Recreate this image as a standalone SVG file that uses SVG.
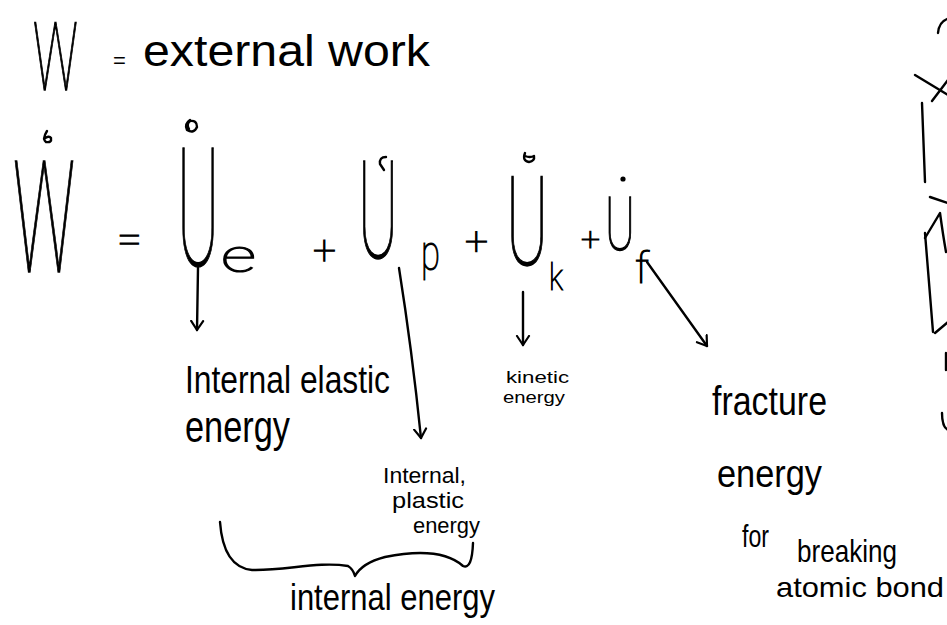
<svg xmlns="http://www.w3.org/2000/svg" width="947" height="625" viewBox="0 0 947 625">
<style>
text{font-family:"Liberation Sans",Arial,sans-serif;fill:#000}
.g{font-family:Roboto,"Liberation Sans",sans-serif;font-weight:100;stroke:#000;stroke-width:1.1;vector-effect:non-scaling-stroke}
.s{fill:none;stroke:#000;stroke-width:2.4;stroke-linecap:round;stroke-linejoin:round}
.c{fill:none;stroke:#000;stroke-width:2.4;stroke-linecap:round;marker-end:url(#ah)}
</style>
<defs>
<marker id="ah" viewBox="-10 -8 12 16" refX="0" refY="0" markerWidth="12" markerHeight="16" markerUnits="userSpaceOnUse" orient="auto">
<path d="M-9,-6 L0,0 L-9,6" fill="none" stroke="#000" stroke-width="2.2" stroke-linecap="round" stroke-linejoin="round"/>
</marker>
</defs>
<rect width="947" height="625" fill="#fff"/>

<g id="definition">
<text class="g" transform="translate(33,90) scale(0.54,1)" font-size="94" textLength="83" lengthAdjust="spacingAndGlyphs" vector-effect="non-scaling-stroke">W</text>
<text x="113" y="68" font-size="22">=</text>
<text x="143" y="66" font-size="44" textLength="287" lengthAdjust="spacingAndGlyphs">external work</text>
</g>

<g id="equation">
<g id="W-dot">
<text class="g" transform="translate(13,272) scale(0.46,1)" font-size="155" textLength="135" lengthAdjust="spacingAndGlyphs" vector-effect="non-scaling-stroke">W</text>
<path class="s" d="M47,131 Q42,139 46,142 Q52,143 51,138 Q49,135 44,139"/>
</g>
<text class="g" x="117" y="253" font-size="40" textLength="25" lengthAdjust="spacingAndGlyphs">=</text>
<g id="Ue">
<text class="g" transform="translate(177,265) scale(0.39,1)" font-size="166" textLength="108" lengthAdjust="spacingAndGlyphs" vector-effect="non-scaling-stroke">U</text>
<path class="s" d="M190,120 Q184,124 187,130 Q194,134 197,127 Q197,120 190,121 Q186,124 189,129"/>
<text class="g" x="221" y="272" font-size="46" textLength="35" lengthAdjust="spacingAndGlyphs">e</text>
</g>
<text class="g" x="313" y="264" font-size="40" textLength="23" lengthAdjust="spacingAndGlyphs">+</text>
<g id="Up">
<text class="g" transform="translate(358,258) scale(0.45,1)" font-size="136" textLength="89" lengthAdjust="spacingAndGlyphs" vector-effect="non-scaling-stroke">U</text>
<path class="s" d="M386,157 Q379,157 380,164 L384,170"/>
<text class="g" x="421" y="270" font-size="50" textLength="19" lengthAdjust="spacingAndGlyphs">p</text>
</g>
<text class="g" x="465" y="254" font-size="38" textLength="23" lengthAdjust="spacingAndGlyphs">+</text>
<g id="Uk">
<text class="g" transform="translate(506,265) scale(0.52,1)" font-size="125" textLength="81" lengthAdjust="spacingAndGlyphs" vector-effect="non-scaling-stroke">U</text>
<path class="s" d="M525,153 Q522,161 529,162 Q535,161 534,156 Q530,158 525,156"/>
<text class="g" x="549" y="290" font-size="36" textLength="14" lengthAdjust="spacingAndGlyphs">k</text>
</g>
<text class="g" x="581" y="250" font-size="32" textLength="19" lengthAdjust="spacingAndGlyphs">+</text>
<g id="Uf">
<text class="g" transform="translate(605,250) scale(0.62,1)" font-size="74" textLength="48" lengthAdjust="spacingAndGlyphs" vector-effect="non-scaling-stroke">U</text>
<circle cx="623" cy="179" r="2.6" fill="#000"/>
<text class="g" x="635" y="283" font-size="42" textLength="14" lengthAdjust="spacingAndGlyphs">f</text>
</g>
</g>

<g id="connectors">
<path class="c" d="M198,268 L197,330"/>
<path class="c" d="M399,268 Q412,350 421,438"/>
<path class="c" d="M523,292 L523,345"/>
<path class="c" d="M647,262 L707,346"/>
<path id="brace" class="s" d="M220,522 C222,550 232,568 252,570 C285,571 318,561 348,566 Q353,569 355,576 Q362,563 385,557 C415,551 445,550 463,566 Q472,570 473,543"/>
</g>

<g id="elastic">
<text x="185" y="393" font-size="38" textLength="205" lengthAdjust="spacingAndGlyphs">Internal elastic</text>
<text x="185" y="442" font-size="44" textLength="105" lengthAdjust="spacingAndGlyphs">energy</text>
</g>
<g id="plastic">
<text x="383" y="483" font-size="22" textLength="83" lengthAdjust="spacingAndGlyphs">Internal,</text>
<text x="392" y="508" font-size="22" textLength="72" lengthAdjust="spacingAndGlyphs">plastic</text>
<text x="413" y="533" font-size="22" textLength="67" lengthAdjust="spacingAndGlyphs">energy</text>
</g>
<g id="kinetic">
<text x="506" y="383" font-size="17" textLength="63" lengthAdjust="spacingAndGlyphs">kinetic</text>
<text x="503" y="403" font-size="17" textLength="62" lengthAdjust="spacingAndGlyphs">energy</text>
</g>
<g id="fracture">
<text x="712" y="415" font-size="40" textLength="115" lengthAdjust="spacingAndGlyphs">fracture</text>
<text x="717" y="487" font-size="38" textLength="105" lengthAdjust="spacingAndGlyphs">energy</text>
<text x="742" y="547" font-size="32"><tspan textLength="27" lengthAdjust="spacingAndGlyphs">for</tspan><tspan x="797" y="562" textLength="100" lengthAdjust="spacingAndGlyphs">breaking</tspan></text>
<text x="776" y="597" font-size="28" textLength="168" lengthAdjust="spacingAndGlyphs">atomic bond</text>
</g>
<g id="internal-energy">
<text x="290" y="610" font-size="36" textLength="205" lengthAdjust="spacingAndGlyphs">internal energy</text>
</g>

<g id="margin-marks">
<path class="s" d="M938,33 Q939,22 947,19"/>
<path class="s" d="M915,75 L948,95"/>
<path class="s" d="M932,101 L948,80"/>
<path class="s" d="M922,103 L925,182"/>
<path class="s" d="M930,197 L948,203"/>
<path class="s" d="M925,238 L940,213 Q943,235 946,252"/>
<path class="s" d="M925,233 L933,332"/>
<path class="s" d="M935,333 L948,322"/>
<path class="s" d="M946,353 L946,370"/>
<path class="s" d="M942,413 Q942,427 948,430"/>
</g>
</svg>
